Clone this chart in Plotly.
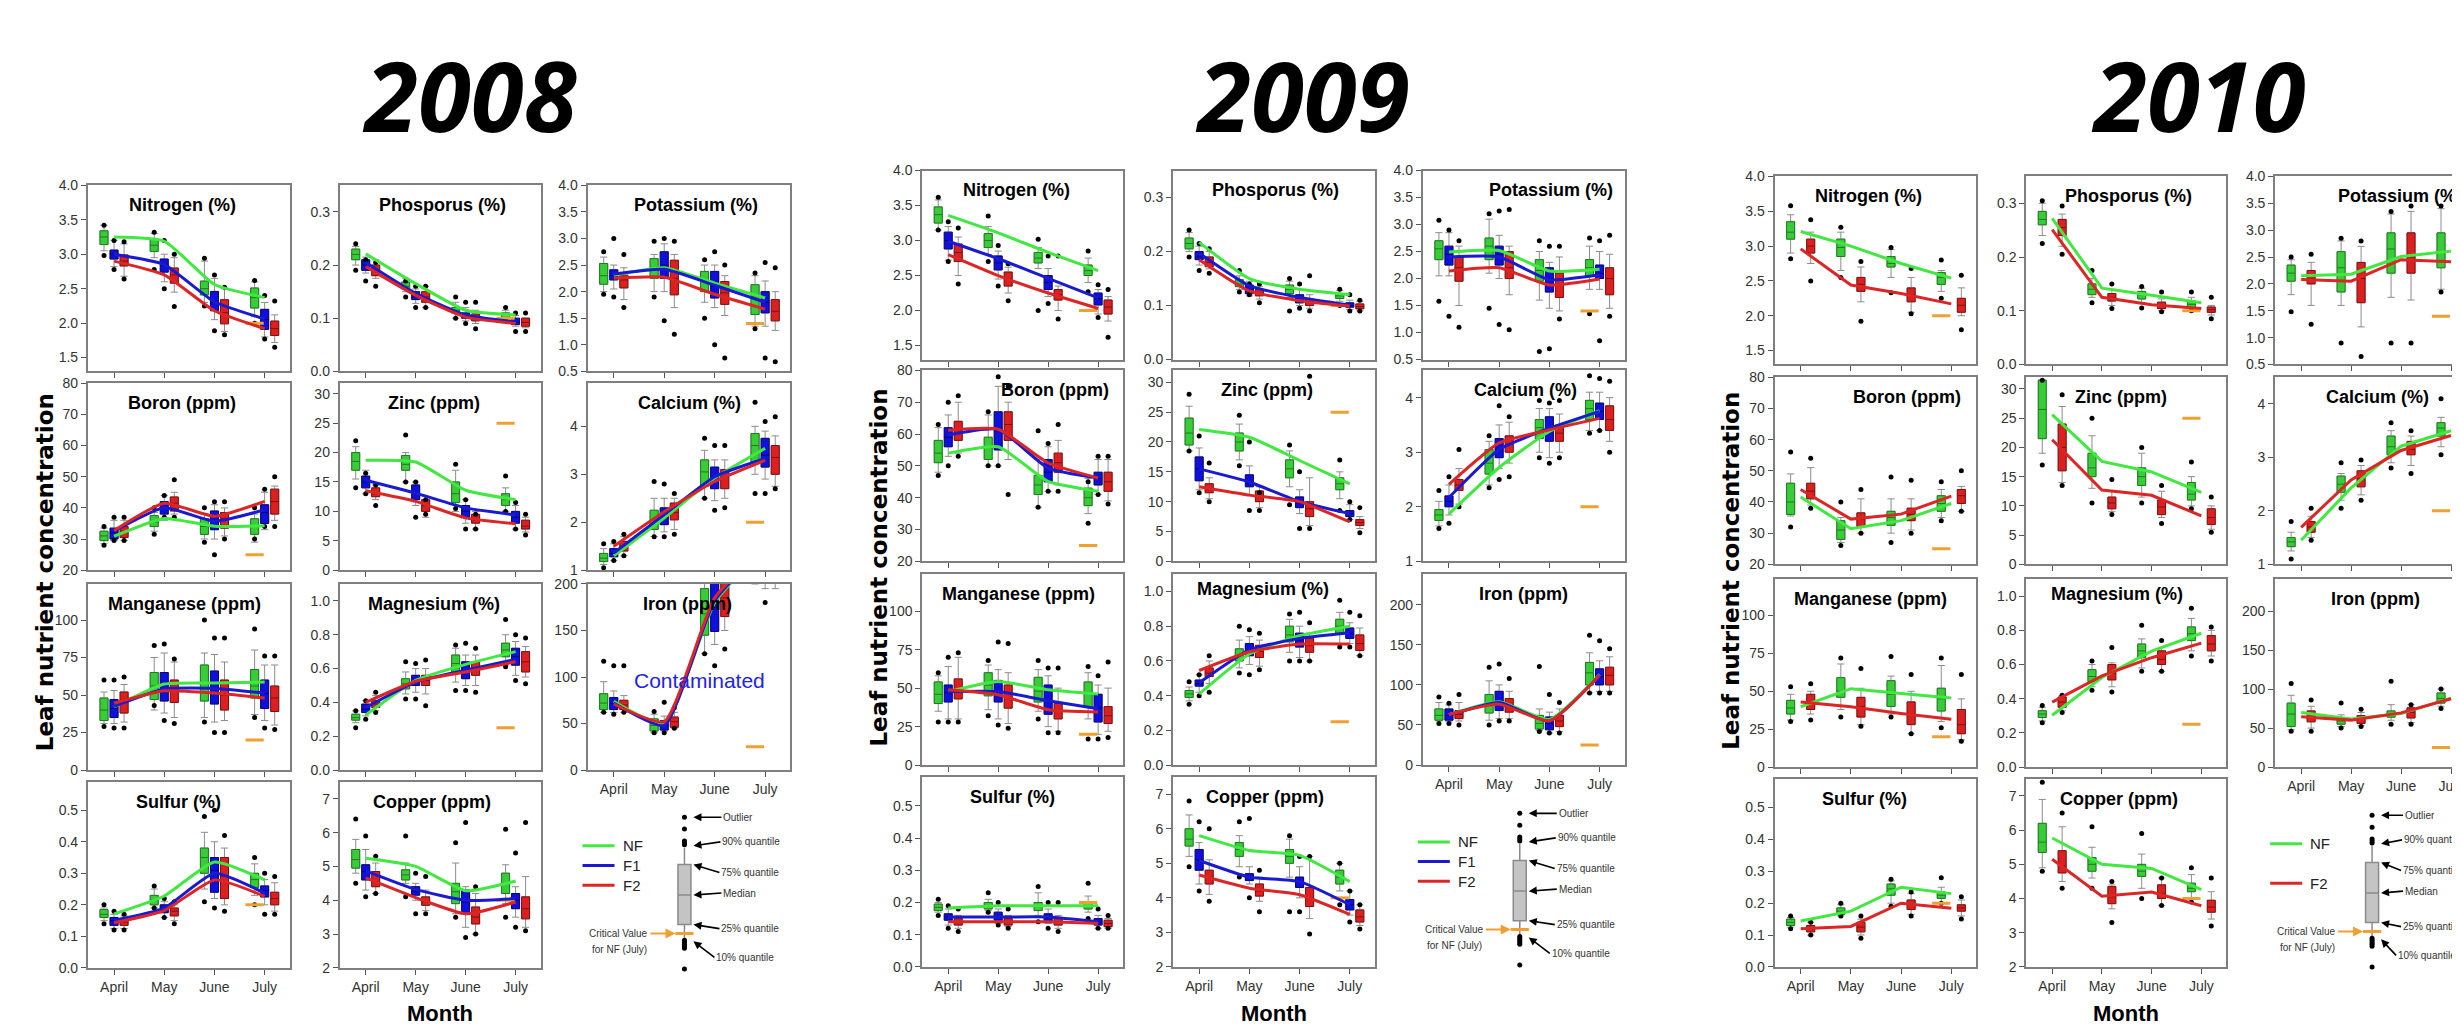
import plotly.graph_objects as go

W, H = 2460, 1025
MONTHS = ["April", "May", "June", "July"]
MONTH_POS = [1, 2, 3, 4]

# ---------------- DATA ----------------
# *_MEAN : line values (treatment means) per month
# *_BOX  : per month (10% quantile, 25% quantile, median, 75% quantile, 90% quantile)
# *_DOTS : per month (lowest outlier, highest outlier)

# ===== 2008 =====
N08_MEAN = {"NF": [3.25, 3.19, 2.56, 2.37], "F1": [3.00, 2.85, 2.31, 2.06], "F2": [2.90, 2.70, 2.18, 1.92]}
N08_BOX = {
    "NF": [(3.05, 3.14, 3.25, 3.34, 3.42), (2.95, 3.04, 3.13, 3.22, 3.30), (2.30, 2.41, 2.50, 2.61, 2.90), (2.10, 2.22, 2.37, 2.51, 2.60)],
    "F1": [(2.82, 2.93, 3.00, 3.06, 3.20), (2.60, 2.74, 2.84, 2.93, 3.00), (2.05, 2.18, 2.30, 2.46, 2.65), (1.80, 1.91, 2.05, 2.20, 2.30)],
    "F2": [(2.68, 2.83, 2.90, 2.99, 3.15), (2.45, 2.58, 2.70, 2.80, 2.95), (1.88, 1.99, 2.15, 2.34, 2.50), (1.72, 1.82, 1.92, 2.03, 2.12)],
}
N08_DOTS = {"NF": [(2.98, 3.42), (2.78, 3.32), (2.25, 2.94), (2.0, 2.62)],
            "F1": [(2.78, 3.2), (2.5, 3.2), (1.89, 2.7), (1.77, 2.4)],
            "F2": [(2.64, 3.18), (2.24, 3.0), (1.83, 2.52), (1.65, 2.32)]}
P08_MEAN = {"NF": [0.221, 0.165, 0.115, 0.106], "F1": [0.205, 0.147, 0.106, 0.093], "F2": [0.197, 0.143, 0.102, 0.090]}
P08_BOX = {
    "NF": [(0.200, 0.210, 0.220, 0.230, 0.235), (0.150, 0.155, 0.160, 0.168, 0.175), (0.100, 0.110, 0.115, 0.120, 0.130), (0.095, 0.100, 0.105, 0.110, 0.115)],
    "F1": [(0.185, 0.190, 0.200, 0.210, 0.215), (0.128, 0.135, 0.140, 0.150, 0.155), (0.095, 0.100, 0.105, 0.110, 0.120), (0.085, 0.088, 0.092, 0.100, 0.105)],
    "F2": [(0.175, 0.180, 0.190, 0.200, 0.210), (0.120, 0.130, 0.140, 0.150, 0.160), (0.090, 0.095, 0.100, 0.108, 0.115), (0.082, 0.085, 0.092, 0.100, 0.100)],
}
P08_DOTS = {"NF": [(0.19, 0.24), (0.14, 0.17), (0.10, 0.14), (0.095, 0.12)],
            "F1": [(0.17, 0.21), (0.12, 0.16), (0.09, 0.13), (0.075, 0.11)],
            "F2": [(0.16, 0.205), (0.12, 0.16), (0.08, 0.13), (0.075, 0.11)]}
K08_MEAN = {"NF": [2.31, 2.45, 2.16, 1.88], "F1": [2.33, 2.42, 2.12, 1.80], "F2": [2.25, 2.27, 1.95, 1.67]}
K08_BOX = {
    "NF": [(2.00, 2.14, 2.30, 2.53, 2.65), (2.00, 2.25, 2.45, 2.62, 2.70), (1.80, 2.00, 2.20, 2.38, 2.50), (1.35, 1.57, 1.90, 2.13, 2.30)],
    "F1": [(2.05, 2.22, 2.30, 2.41, 2.50), (2.00, 2.25, 2.50, 2.75, 2.90), (1.70, 1.88, 2.10, 2.38, 2.50), (1.35, 1.60, 1.80, 2.00, 2.20)],
    "F2": [(1.85, 2.07, 2.22, 2.31, 2.45), (1.70, 1.94, 2.25, 2.59, 2.70), (1.55, 1.76, 1.98, 2.19, 2.30), (1.27, 1.45, 1.63, 1.85, 2.00)],
}
K08_DOTS = {"NF": [(1.95, 2.75), (1.9, 2.95), (1.5, 2.6), (1.3, 2.35)],
            "F1": [(1.9, 3.0), (1.45, 3.0), (1.0, 2.75), (0.75, 2.55)],
            "F2": [(1.7, 2.7), (1.2, 2.95), (0.75, 2.5), (0.68, 2.45)]}
B08_MEAN = {"NF": [30.9, 36.6, 34.1, 34.3], "F1": [32.5, 40.0, 35.7, 39.4], "F2": [32.7, 41.5, 37.3, 42.1]}
B08_BOX = {
    "NF": [(28.5, 29.5, 31, 32.5, 33.5), (32.5, 34, 35.5, 37.5, 38.5), (30, 31.5, 34, 36.5, 38), (29, 31.5, 34, 36.5, 38)],
    "F1": [(29.5, 30, 32, 33.5, 36), (36, 38, 40, 42, 44), (30, 33, 36, 39, 41), (33, 35, 38.5, 41, 45)],
    "F2": [(29.5, 30.5, 32.5, 34, 36), (38, 39, 41.5, 43.5, 45), (31, 33.5, 36.5, 38.5, 40), (36, 38, 42, 46, 47)],
}
B08_DOTS = {"NF": [(28, 34), (31.5, 40), (29, 40), (30, 40)],
            "F1": [(29.5, 37), (37, 44), (25, 42), (34, 46)],
            "F2": [(29.5, 37), (37, 49), (30, 42), (34, 50)]}
ZN08_MEAN = {"NF": [18.7, 18.4, 13.6, 12.0], "F1": [15.3, 13.1, 10.6, 9.4], "F2": [13.5, 11.7, 8.9, 7.9]}
ZN08_BOX = {
    "NF": [(15.5, 17, 18.5, 20, 21), (15, 17, 18, 19.5, 20), (10, 11.5, 13, 15, 17), (10, 11, 12, 13, 14)],
    "F1": [(13, 14, 15, 16, 17), (11, 12, 13, 14.5, 15), (8, 9, 10, 11, 12), (7, 8, 9, 10, 11)],
    "F2": [(12, 12.5, 13, 14, 14.5), (9, 10, 11, 12, 12.5), (7, 8, 8.5, 9.5, 10), (6.5, 7, 7.5, 8.5, 9)],
}
ZN08_DOTS = {"NF": [(14, 22), (15, 23), (10.5, 18), (10, 16)],
             "F1": [(13, 16.5), (9, 15), (7, 12), (7, 11.5)],
             "F2": [(11, 14.5), (9.5, 12), (7, 9.5), (6, 9.5)]}
CA08_MEAN = {"NF": [1.30, 2.09, 2.92, 3.54], "F1": [1.36, 2.16, 2.95, 3.33], "F2": [1.50, 2.22, 2.85, 3.29]}
CA08_BOX = {
    "NF": [(1.12, 1.18, 1.25, 1.35, 1.45), (1.70, 1.85, 2.05, 2.25, 2.50), (2.50, 2.75, 3.05, 3.30, 3.50), (3.00, 3.25, 3.60, 3.85, 4.00)],
    "F1": [(1.20, 1.28, 1.35, 1.45, 1.55), (1.80, 1.95, 2.10, 2.30, 2.50), (2.45, 2.70, 2.90, 3.15, 3.30), (2.90, 3.15, 3.40, 3.75, 3.90)],
    "F2": [(1.30, 1.40, 1.50, 1.60, 1.70), (1.85, 2.05, 2.20, 2.40, 2.50), (2.50, 2.70, 2.95, 3.10, 3.30), (2.75, 3.00, 3.35, 3.60, 3.80)],
}
CA08_DOTS = {"NF": [(1.05, 1.55), (1.7, 2.85), (2.5, 3.75), (2.6, 4.5)],
             "F1": [(1.2, 1.6), (1.7, 2.8), (2.25, 3.6), (2.6, 4.1)],
             "F2": [(1.3, 1.75), (1.75, 2.6), (2.3, 3.6), (2.7, 4.2)]}
MN08_MEAN = {"NF": [42, 57.3, 58, 58.7], "F1": [42.5, 54, 54.4, 51.3], "F2": [44.5, 52.8, 51.3, 48]}
MN08_BOX = {
    "NF": [(31, 33, 40, 48, 52), (40, 47, 56, 65, 75), (35, 46, 58, 70, 78), (37, 48, 56, 67, 80)],
    "F1": [(31, 35, 41, 47, 53), (38, 46, 57, 65, 78), (32, 44, 54, 66, 77), (33, 41, 51, 60, 70)],
    "F2": [(32, 38, 45, 52, 57), (35, 45, 53, 60, 72), (33, 40, 50, 60, 72), (30, 39, 48, 56, 70)],
}
MN08_DOTS = {"NF": [(29, 60), (43, 83), (32, 100), (35, 94)],
             "F1": [(28, 60), (33, 84), (25, 88), (28, 76)],
             "F2": [(28, 62), (31, 74), (25, 88), (27, 76)]}
MG08_MEAN = {"NF": [0.325, 0.53, 0.625, 0.70], "F1": [0.37, 0.52, 0.59, 0.655], "F2": [0.40, 0.525, 0.58, 0.64]}
MG08_BOX = {
    "NF": [(0.28, 0.295, 0.31, 0.33, 0.35), (0.45, 0.48, 0.51, 0.54, 0.58), (0.52, 0.58, 0.63, 0.68, 0.72), (0.62, 0.67, 0.71, 0.75, 0.80)],
    "F1": [(0.32, 0.34, 0.36, 0.39, 0.41), (0.46, 0.50, 0.53, 0.56, 0.60), (0.50, 0.54, 0.58, 0.64, 0.68), (0.56, 0.62, 0.67, 0.72, 0.76)],
    "F2": [(0.35, 0.37, 0.39, 0.41, 0.44), (0.45, 0.50, 0.53, 0.56, 0.60), (0.50, 0.56, 0.60, 0.64, 0.68), (0.55, 0.58, 0.64, 0.70, 0.73)],
}
MG08_DOTS = {"NF": [(0.25, 0.35), (0.42, 0.64), (0.47, 0.74), (0.61, 0.89)],
             "F1": [(0.30, 0.41), (0.42, 0.63), (0.47, 0.75), (0.53, 0.80)],
             "F2": [(0.34, 0.46), (0.38, 0.65), (0.46, 0.72), (0.51, 0.78)]}
FE08_MEAN = {"NF": [74, 49.5, 180, 240], "F1": [72, 48, 182, 240], "F2": [71, 52, 185, 240]}
FE08_BOX = {
    "NF": [(62, 65, 72, 82, 95), (40, 42, 48, 55, 60), (125, 145, 168, 195, 215), (200, 225, 250, 275, 300)],
    "F1": [(62, 65, 72, 78, 85), (42, 43, 48, 53, 58), (135, 149, 175, 210, 230), (195, 220, 245, 270, 290)],
    "F2": [(62, 65, 70, 75, 80), (45, 46, 52, 57, 62), (150, 165, 185, 210, 230), (195, 215, 240, 265, 290)],
}
FE08_DOTS = {"NF": [(62, 117), (40, 63), (125, 250), (205, 320)],
             "F1": [(60, 112), (40, 73), (112, 250), (180, 320)],
             "F2": [(62, 112), (45, 67), (130, 250), (210, 320)]}
S08_MEAN = {"NF": [0.171, 0.228, 0.336, 0.279], "F1": [0.151, 0.190, 0.300, 0.237], "F2": [0.143, 0.182, 0.279, 0.227]}
S08_BOX = {
    "NF": [(0.15, 0.16, 0.17, 0.185, 0.19), (0.19, 0.20, 0.215, 0.23, 0.25), (0.25, 0.30, 0.35, 0.38, 0.43), (0.23, 0.255, 0.28, 0.30, 0.33)],
    "F1": [(0.125, 0.135, 0.15, 0.16, 0.17), (0.16, 0.175, 0.19, 0.20, 0.21), (0.22, 0.24, 0.31, 0.35, 0.40), (0.20, 0.225, 0.245, 0.26, 0.28)],
    "F2": [(0.125, 0.135, 0.145, 0.155, 0.165), (0.15, 0.165, 0.18, 0.19, 0.20), (0.20, 0.22, 0.29, 0.35, 0.38), (0.18, 0.20, 0.22, 0.24, 0.27)],
}
S08_DOTS = {"NF": [(0.14, 0.20), (0.19, 0.26), (0.21, 0.48), (0.20, 0.35)],
            "F1": [(0.12, 0.18), (0.16, 0.22), (0.19, 0.50), (0.17, 0.30)],
            "F2": [(0.12, 0.17), (0.14, 0.21), (0.18, 0.42), (0.17, 0.29)]}
CU08_MEAN = {"NF": [5.24, 5.00, 4.28, 4.57], "F1": [4.87, 4.32, 4.00, 4.05], "F2": [4.66, 4.08, 3.60, 3.95]}
CU08_BOX = {
    "NF": [(4.8, 4.95, 5.2, 5.5, 5.8), (4.5, 4.6, 4.75, 4.9, 5.1), (3.6, 3.9, 4.25, 4.5, 5.1), (3.9, 4.2, 4.5, 4.8, 5.05)],
    "F1": [(4.3, 4.6, 4.85, 5.05, 5.5), (4.0, 4.15, 4.25, 4.4, 4.5), (3.2, 3.6, 3.95, 4.3, 4.4), (3.5, 3.75, 4.0, 4.2, 4.4)],
    "F2": [(4.2, 4.4, 4.55, 4.85, 5.1), (3.7, 3.85, 3.95, 4.1, 4.3), (3.0, 3.3, 3.5, 3.8, 4.2), (3.2, 3.45, 3.75, 4.1, 4.7)],
}
CU08_DOTS = {"NF": [(4.5, 6.4), (4.1, 5.9), (3.5, 5.7), (3.5, 6.1)],
             "F1": [(4.1, 5.9), (3.6, 4.8), (2.9, 6.3), (3.2, 5.4)],
             "F2": [(4.2, 5.3), (3.6, 4.7), (3.0, 4.4), (3.1, 6.3)]}

# ===== 2009 =====
N09_MEAN = {"NF": [3.36, 3.11, 2.83, 2.57], "F1": [2.99, 2.74, 2.46, 2.18], "F2": [2.80, 2.50, 2.25, 2.03]}
N09_BOX = {
    "NF": [(3.15, 3.25, 3.37, 3.48, 3.58), (2.80, 2.90, 3.00, 3.10, 3.20), (2.60, 2.68, 2.75, 2.83, 2.90), (2.40, 2.50, 2.57, 2.65, 2.75)],
    "F1": [(2.72, 2.88, 3.00, 3.12, 3.20), (2.45, 2.58, 2.68, 2.78, 2.85), (2.20, 2.30, 2.40, 2.50, 2.60), (1.95, 2.08, 2.17, 2.25, 2.30)],
    "F2": [(2.50, 2.70, 2.83, 2.95, 3.05), (2.25, 2.35, 2.45, 2.55, 2.62), (2.00, 2.15, 2.22, 2.30, 2.35), (1.85, 1.95, 2.05, 2.15, 2.20)],
}
N09_DOTS = {"NF": [(3.15, 3.62), (2.7, 3.35), (2.0, 3.02), (2.27, 2.85)],
            "F1": [(2.7, 3.27), (2.35, 2.93), (2.1, 2.78), (1.9, 2.37)],
            "F2": [(2.38, 3.18), (2.14, 2.67), (1.88, 2.78), (1.62, 2.3)]}
P09_MEAN = {"NF": [0.217, 0.150, 0.130, 0.120], "F1": [0.197, 0.137, 0.115, 0.101], "F2": [0.185, 0.127, 0.109, 0.099]}
P09_BOX = {
    "NF": [(0.200, 0.205, 0.215, 0.225, 0.235), (0.130, 0.135, 0.140, 0.148, 0.155), (0.115, 0.122, 0.130, 0.138, 0.145), (0.108, 0.113, 0.118, 0.122, 0.128)],
    "F1": [(0.175, 0.185, 0.190, 0.200, 0.210), (0.118, 0.122, 0.130, 0.138, 0.145), (0.100, 0.105, 0.113, 0.120, 0.130), (0.093, 0.097, 0.100, 0.105, 0.110)],
    "F2": [(0.168, 0.172, 0.180, 0.190, 0.200), (0.112, 0.118, 0.123, 0.130, 0.135), (0.095, 0.100, 0.107, 0.112, 0.120), (0.090, 0.094, 0.098, 0.103, 0.108)],
}
P09_DOTS = {"NF": [(0.19, 0.24), (0.125, 0.165), (0.09, 0.15), (0.10, 0.13)],
            "F1": [(0.165, 0.215), (0.12, 0.14), (0.095, 0.14), (0.09, 0.12)],
            "F2": [(0.16, 0.205), (0.105, 0.14), (0.09, 0.155), (0.09, 0.11)]}
K09_MEAN = {"NF": [2.49, 2.52, 2.14, 2.17], "F1": [2.40, 2.40, 1.98, 2.07], "F2": [2.14, 2.20, 1.88, 1.99]}
K09_BOX = {
    "NF": [(2.05, 2.35, 2.55, 2.70, 2.85), (2.10, 2.35, 2.60, 2.75, 3.10), (1.60, 1.95, 2.15, 2.35, 2.50), (1.80, 2.05, 2.20, 2.35, 2.60)],
    "F1": [(2.05, 2.25, 2.45, 2.60, 2.85), (2.00, 2.25, 2.45, 2.60, 2.80), (1.45, 1.75, 2.00, 2.20, 2.30), (1.80, 2.00, 2.10, 2.25, 2.50)],
    "F2": [(1.50, 1.95, 2.20, 2.40, 2.60), (1.70, 2.00, 2.20, 2.50, 2.60), (1.40, 1.65, 1.90, 2.10, 2.40), (1.45, 1.70, 2.00, 2.20, 2.45)],
}
K09_DOTS = {"NF": [(1.58, 3.08), (1.45, 3.2), (0.65, 2.7), (1.35, 2.75)],
            "F1": [(1.3, 2.9), (1.15, 3.25), (0.7, 2.6), (0.85, 2.7)],
            "F2": [(1.1, 2.7), (1.05, 3.28), (1.25, 2.6), (1.3, 2.8)]}
B09_MEAN = {"NF": [54, 56, 45.1, 42], "F1": [59.7, 61.5, 49.3, 46.2], "F2": [61.2, 61.5, 50.9, 46.2]}
B09_BOX = {
    "NF": [(48, 51, 54, 58, 62), (50, 52, 56, 59, 66), (37, 41, 44, 47, 52), (35, 37.5, 40, 43, 46)],
    "F1": [(53, 56, 59, 62, 66), (50, 55, 61, 67, 75), (42, 45, 48, 52, 56), (41, 44, 46, 48, 52)],
    "F2": [(54, 58, 61, 64, 70), (52, 58, 63, 67, 70), (44, 48, 51, 54, 58), (39, 42, 45, 48, 52)],
}
B09_DOTS = {"NF": [(47, 63), (50, 67), (37, 61), (32, 45)],
            "F1": [(50, 70), (50, 78), (42, 57), (41, 53)],
            "F2": [(53, 72), (41, 75), (42, 63), (38, 53)]}
ZN09_MEAN = {"NF": [22.1, 20.8, 16.9, 13.0], "F1": [15.5, 13.3, 10.0, 8.0], "F2": [12.5, 11.1, 10.0, 6.6]}
ZN09_BOX = {
    "NF": [(18.5, 19.5, 21.5, 24, 26), (17, 18.5, 20, 21.5, 23), (12.5, 14, 15.5, 17, 18.5), (10.5, 12, 13, 14, 15)],
    "F1": [(12, 13.5, 15.5, 17.5, 19), (11, 12.5, 13, 14.5, 16), (8, 9, 9.8, 10.8, 12), (7, 7.5, 8, 8.5, 9.5)],
    "F2": [(10.5, 11.5, 12, 13, 14), (9, 10, 10.8, 11.8, 12.5), (6, 7.5, 8.8, 10, 14), (5.5, 6, 6.5, 7, 7.5)],
}
ZN09_DOTS = {"NF": [(18.5, 28), (16, 24.5), (9.5, 19.5), (8.5, 17)],
             "F1": [(11.5, 21), (8.5, 20), (5.5, 15), (7, 10)],
             "F2": [(10, 16.5), (8.5, 11.5), (5.5, 31), (4.8, 9)]}
CA09_MEAN = {"NF": [1.87, 2.72, 3.38, 3.76], "F1": [2.17, 3.05, 3.44, 3.75], "F2": [2.41, 3.17, 3.41, 3.62]}
CA09_BOX = {
    "NF": [(1.65, 1.75, 1.85, 1.95, 2.10), (2.40, 2.60, 2.80, 3.05, 3.20), (3.00, 3.25, 3.45, 3.60, 3.80), (3.40, 3.60, 3.80, 3.95, 4.10)],
    "F1": [(1.85, 2.00, 2.10, 2.20, 2.40), (2.70, 2.90, 3.05, 3.25, 3.50), (2.90, 3.20, 3.40, 3.65, 3.80), (3.40, 3.60, 3.75, 3.90, 4.10)],
    "F2": [(2.05, 2.30, 2.40, 2.50, 2.70), (2.80, 3.00, 3.15, 3.30, 3.55), (3.00, 3.20, 3.35, 3.50, 3.70), (3.20, 3.40, 3.60, 3.85, 4.00)],
}
CA09_DOTS = {"NF": [(1.6, 2.3), (2.35, 3.3), (2.9, 3.95), (3.35, 4.4)],
             "F1": [(1.7, 2.55), (2.5, 3.85), (2.8, 3.9), (3.4, 4.35)],
             "F2": [(2.0, 3.05), (2.55, 3.65), (2.9, 3.95), (3.0, 4.3)]}
MN09_MEAN = {"NF": [47.8, 54.3, 48.9, 46.1], "F1": [47.8, 47.8, 41.8, 36.6], "F2": [48.9, 45.7, 36.0, 34.5]}
MN09_BOX = {
    "NF": [(35, 40, 46, 54, 58), (36, 45, 52, 60, 65), (35, 41, 48, 57, 62), (30, 38, 47, 54, 60)],
    "F1": [(30, 41, 47, 52, 64), (30, 41, 48, 55, 62), (25, 33, 42, 52, 58), (20, 28, 37, 46, 52)],
    "F2": [(30, 43, 49, 56, 70), (27, 37, 44, 52, 60), (22, 30, 35, 40, 50), (22, 27, 32, 38, 50)],
}
MN09_DOTS = {"NF": [(28, 60), (32, 68), (30, 68), (17, 64)],
             "F1": [(28, 70), (26, 80), (21, 63), (17, 58)],
             "F2": [(28, 73), (24, 79), (21, 63), (18, 67)]}
MG09_MEAN = {"NF": [0.41, 0.64, 0.745, 0.80], "F1": [0.474, 0.664, 0.73, 0.763], "F2": [0.545, 0.653, 0.697, 0.697]}
MG09_BOX = {
    "NF": [(0.37, 0.39, 0.41, 0.43, 0.45), (0.56, 0.60, 0.63, 0.67, 0.72), (0.65, 0.71, 0.75, 0.80, 0.84), (0.70, 0.76, 0.80, 0.84, 0.88)],
    "F1": [(0.42, 0.455, 0.47, 0.49, 0.52), (0.58, 0.63, 0.66, 0.70, 0.74), (0.62, 0.68, 0.72, 0.76, 0.80), (0.70, 0.73, 0.76, 0.79, 0.82)],
    "F2": [(0.47, 0.51, 0.53, 0.56, 0.60), (0.57, 0.62, 0.655, 0.69, 0.72), (0.60, 0.65, 0.69, 0.73, 0.76), (0.63, 0.66, 0.70, 0.75, 0.79)],
}
MG09_DOTS = {"NF": [(0.35, 0.48), (0.53, 0.80), (0.60, 0.87), (0.68, 0.95)],
             "F1": [(0.40, 0.52), (0.52, 0.78), (0.60, 0.88), (0.68, 0.88)],
             "F2": [(0.42, 0.63), (0.55, 0.76), (0.60, 0.82), (0.63, 0.86)]}
FE09_MEAN = {"NF": [62.9, 79, 57, 113], "F1": [62, 78, 55, 112], "F2": [63, 76, 55, 112]}
FE09_BOX = {
    "NF": [(55, 56, 62, 70, 78), (56, 65, 75, 88, 105), (43, 45, 52, 62, 70), (90, 100, 115, 128, 140)],
    "F1": [(54, 56, 62, 70, 75), (58, 68, 78, 92, 100), (40, 44, 52, 60, 66), (92, 100, 110, 120, 130)],
    "F2": [(55, 58, 63, 68, 78), (58, 66, 75, 83, 92), (42, 48, 55, 62, 70), (92, 100, 112, 122, 135)],
}
FE09_DOTS = {"NF": [(52, 85), (50, 122), (42, 123), (90, 162)],
             "F1": [(52, 77), (55, 126), (40, 88), (90, 155)],
             "F2": [(50, 88), (55, 108), (40, 78), (90, 145)]}
S09_MEAN = {"NF": [0.183, 0.19, 0.19, 0.19], "F1": [0.155, 0.155, 0.155, 0.14], "F2": [0.14, 0.14, 0.14, 0.135]}
S09_BOX = {
    "NF": [(0.17, 0.175, 0.185, 0.195, 0.20), (0.175, 0.18, 0.19, 0.20, 0.21), (0.16, 0.175, 0.19, 0.20, 0.23), (0.17, 0.18, 0.19, 0.20, 0.22)],
    "F1": [(0.13, 0.145, 0.155, 0.165, 0.18), (0.135, 0.145, 0.155, 0.17, 0.18), (0.135, 0.14, 0.15, 0.165, 0.18), (0.12, 0.13, 0.14, 0.15, 0.16)],
    "F2": [(0.12, 0.13, 0.14, 0.15, 0.16), (0.125, 0.13, 0.14, 0.15, 0.16), (0.12, 0.13, 0.14, 0.15, 0.16), (0.12, 0.125, 0.135, 0.145, 0.15)],
}
S09_DOTS = {"NF": [(0.16, 0.21), (0.17, 0.23), (0.14, 0.25), (0.15, 0.26)],
            "F1": [(0.12, 0.19), (0.13, 0.20), (0.12, 0.20), (0.12, 0.18)],
            "F2": [(0.11, 0.18), (0.12, 0.18), (0.11, 0.20), (0.12, 0.16)]}
CU09_MEAN = {"NF": [5.80, 5.37, 5.23, 4.47], "F1": [5.08, 4.60, 4.47, 3.80], "F2": [4.66, 4.28, 4.09, 3.52]}
CU09_BOX = {
    "NF": [(5.2, 5.5, 5.7, 6.0, 6.4), (4.9, 5.2, 5.4, 5.6, 5.8), (4.6, 5.0, 5.2, 5.4, 5.7), (4.2, 4.4, 4.6, 4.8, 5.0)],
    "F1": [(4.4, 4.8, 5.1, 5.4, 5.6), (4.4, 4.5, 4.6, 4.7, 4.9), (4.0, 4.3, 4.45, 4.6, 4.9), (3.5, 3.65, 3.8, 3.95, 4.2)],
    "F2": [(4.1, 4.4, 4.6, 4.8, 5.1), (3.9, 4.05, 4.2, 4.4, 4.6), (3.4, 3.75, 4.0, 4.3, 5.2), (3.2, 3.3, 3.45, 3.65, 3.8)],
}
CU09_DOTS = {"NF": [(4.9, 6.8), (4.6, 6.2), (3.6, 5.8), (3.8, 5.0)],
             "F1": [(4.2, 6.2), (4.0, 6.3), (3.6, 5.2), (3.3, 4.2)],
             "F2": [(3.9, 6.0), (3.6, 4.8), (2.95, 5.2), (3.1, 3.8)]}

# ===== 2010 (NF and F2 only) =====
N10_MEAN = {"NF": [3.21, 3.00, 2.75, 2.54], "F2": [2.96, 2.44, 2.32, 2.17]}
N10_BOX = {
    "NF": [(2.90, 3.10, 3.20, 3.35, 3.45), (2.65, 2.85, 2.98, 3.10, 3.20), (2.55, 2.70, 2.75, 2.85, 2.95), (2.35, 2.45, 2.55, 2.62, 2.65)],
    "F2": [(2.75, 2.90, 3.00, 3.10, 3.20), (2.20, 2.35, 2.45, 2.55, 2.70), (2.05, 2.20, 2.30, 2.40, 2.55), (2.00, 2.05, 2.15, 2.25, 2.40)],
}
N10_DOTS = {"NF": [(2.82, 3.58), (2.55, 3.27), (2.33, 2.98), (2.25, 2.8)],
            "F2": [(2.5, 3.38), (1.92, 2.78), (2.03, 2.68), (1.8, 2.58)]}
P10_MEAN = {"NF": [0.272, 0.142, 0.129, 0.115], "F2": [0.251, 0.125, 0.111, 0.104]}
P10_BOX = {
    "NF": [(0.240, 0.260, 0.270, 0.285, 0.300), (0.125, 0.130, 0.140, 0.150, 0.160), (0.115, 0.122, 0.130, 0.136, 0.142), (0.100, 0.106, 0.112, 0.118, 0.125)],
    "F2": [(0.220, 0.240, 0.255, 0.270, 0.280), (0.110, 0.118, 0.125, 0.132, 0.140), (0.100, 0.104, 0.110, 0.116, 0.122), (0.092, 0.097, 0.102, 0.107, 0.110)],
}
P10_DOTS = {"NF": [(0.225, 0.305), (0.115, 0.175), (0.105, 0.145), (0.10, 0.135)],
            "F2": [(0.205, 0.295), (0.104, 0.15), (0.098, 0.135), (0.085, 0.125)]}
K10_MEAN = {"NF": [2.15, 2.18, 2.51, 2.61], "F2": [2.08, 2.05, 2.45, 2.41]}
K10_BOX = {
    "NF": [(1.80, 2.05, 2.20, 2.35, 2.45), (1.60, 1.85, 2.30, 2.60, 2.80), (1.75, 2.20, 2.65, 2.95, 3.30), (1.90, 2.30, 2.60, 2.95, 3.40)],
    "F2": [(1.60, 2.00, 2.10, 2.25, 2.40), (1.20, 1.65, 2.10, 2.40, 2.70), (1.70, 2.20, 2.50, 2.95, 3.35), (1.80, 2.05, 2.45, 2.85, 3.05)],
}
K10_DOTS = {"NF": [(1.48, 2.5), (0.9, 2.85), (0.9, 3.35), (1.85, 3.45)],
            "F2": [(1.25, 2.55), (0.65, 2.8), (0.9, 3.45), (1.7, 3.3)]}
B10_MEAN = {"NF": [41.6, 31.4, 34.0, 39.5], "F2": [44.0, 34.5, 36.1, 41.9]}
B10_BOX = {
    "NF": [(35.5, 36, 40, 46, 49), (27, 28, 31, 34, 35), (30, 32.5, 35, 37, 41), (35, 37, 39.5, 42, 44)],
    "F2": [(39, 41, 43.5, 46, 51), (30, 32, 34.5, 36.5, 41), (31, 34, 36, 38, 41), (37, 39.5, 42, 44, 45)],
}
B10_DOTS = {"NF": [(32, 56), (26, 40), (27, 48), (34, 46.5)],
            "F2": [(38, 54), (30, 44), (30, 47), (37, 50)]}
ZN10_MEAN = {"NF": [25.6, 17.6, 15.8, 12.3], "F2": [21.3, 12.7, 11.8, 8.3]}
ZN10_BOX = {
    "NF": [(19, 21.5, 26.5, 31.5, 31.5), (13, 15, 16.5, 19, 22), (11.5, 13.5, 15, 16.5, 19), (10, 11, 12, 14, 15)],
    "F2": [(14, 16, 20, 24, 27), (9, 9.5, 10.5, 11.5, 12.5), (8, 8.5, 9.8, 11, 12.5), (6, 6.8, 8, 9.5, 10)],
}
ZN10_DOTS = {"NF": [(17, 31.5), (10.5, 25), (10.5, 20), (9.5, 17.5)],
             "F2": [(13.5, 29), (8.5, 14.5), (7, 13.5), (5.5, 11.5)]}
CA10_MEAN = {"NF": [1.45, 2.43, 3.21, 3.50], "F2": [1.69, 2.58, 3.13, 3.41]}
CA10_BOX = {
    "NF": [(1.25, 1.33, 1.42, 1.50, 1.60), (2.20, 2.35, 2.50, 2.65, 2.70), (2.90, 3.05, 3.20, 3.40, 3.50), (3.20, 3.40, 3.55, 3.65, 3.75)],
    "F2": [(1.50, 1.60, 1.70, 1.80, 1.90), (2.30, 2.45, 2.60, 2.75, 2.85), (2.85, 3.05, 3.15, 3.30, 3.40), (3.05, 3.20, 3.40, 3.55, 3.70)],
}
CA10_DOTS = {"NF": [(1.1, 1.8), (2.05, 2.9), (2.8, 3.65), (3.05, 4.1)],
             "F2": [(1.45, 2.05), (2.2, 2.95), (2.7, 3.5), (3.0, 3.9)]}
MN10_MEAN = {"NF": [39.8, 51.7, 48.5, 45.6], "F2": [43.0, 39.8, 35.4, 31.5]}
MN10_BOX = {
    "NF": [(31, 35, 39, 44, 48), (38, 46, 50, 59, 68), (35, 40, 48, 57, 60), (30, 37, 45, 52, 67)],
    "F2": [(35, 38, 43, 48, 50), (28, 33, 40, 46, 52), (22, 28, 35, 43, 50), (18, 22, 28, 38, 45)],
}
MN10_DOTS = {"NF": [(30, 53), (33, 72), (33, 73), (26, 72)],
             "F2": [(31, 55), (27, 65), (22, 61), (17, 61)]}
MG10_MEAN = {"NF": [0.303, 0.524, 0.678, 0.783], "F2": [0.38, 0.534, 0.64, 0.725]}
MG10_BOX = {
    "NF": [(0.27, 0.29, 0.31, 0.33, 0.35), (0.47, 0.50, 0.53, 0.57, 0.60), (0.58, 0.64, 0.68, 0.72, 0.75), (0.68, 0.74, 0.78, 0.82, 0.87)],
    "F2": [(0.33, 0.35, 0.38, 0.41, 0.42), (0.47, 0.51, 0.55, 0.60, 0.61), (0.56, 0.60, 0.63, 0.68, 0.70), (0.65, 0.68, 0.72, 0.77, 0.80)],
}
MG10_DOTS = {"NF": [(0.26, 0.36), (0.45, 0.62), (0.56, 0.83), (0.65, 0.93)],
             "F2": [(0.32, 0.42), (0.44, 0.70), (0.56, 0.74), (0.62, 0.82)]}
FE10_MEAN = {"NF": [70, 61.5, 68.6, 88.4], "F2": [64.4, 60.2, 69.5, 87.6]}
FE10_BOX = {
    "NF": [(48, 52, 68, 82, 92), (52, 55, 59, 63, 67), (60, 64, 68, 72, 80), (78, 82, 88, 95, 100)],
    "F2": [(50, 58, 65, 72, 78), (53, 56, 62, 66, 70), (57, 63, 70, 76, 80), (74, 80, 85, 92, 96)],
}
FE10_DOTS = {"NF": [(46, 107), (50, 82), (55, 110), (75, 100)],
             "F2": [(46, 86), (52, 74), (55, 80), (72, 133)]}
S10_MEAN = {"NF": [0.144, 0.175, 0.25, 0.23], "F2": [0.12, 0.127, 0.20, 0.184]}
S10_BOX = {
    "NF": [(0.125, 0.13, 0.14, 0.15, 0.155), (0.16, 0.165, 0.175, 0.185, 0.195), (0.20, 0.225, 0.245, 0.26, 0.27), (0.20, 0.215, 0.225, 0.235, 0.25)],
    "F2": [(0.10, 0.11, 0.12, 0.13, 0.14), (0.10, 0.11, 0.125, 0.14, 0.15), (0.165, 0.18, 0.195, 0.21, 0.23), (0.16, 0.175, 0.185, 0.195, 0.21)],
}
S10_DOTS = {"NF": [(0.12, 0.16), (0.16, 0.20), (0.19, 0.275), (0.20, 0.28)],
            "F2": [(0.10, 0.14), (0.09, 0.16), (0.16, 0.235), (0.15, 0.22)]}
CU10_MEAN = {"NF": [5.77, 5.00, 4.88, 4.26], "F2": [5.15, 4.07, 4.19, 3.79]}
CU10_BOX = {
    "NF": [(4.9, 5.35, 5.65, 6.2, 6.9), (4.6, 4.8, 5.0, 5.2, 5.5), (4.3, 4.65, 4.8, 5.0, 5.3), (4.0, 4.2, 4.3, 4.45, 4.7)],
    "F2": [(4.5, 4.75, 4.95, 5.4, 6.1), (3.7, 3.85, 4.05, 4.35, 4.4), (3.8, 4.0, 4.15, 4.4, 4.6), (3.4, 3.6, 3.75, 3.95, 4.2)],
}
CU10_DOTS = {"NF": [(4.8, 7.4), (4.3, 6.1), (4.0, 5.9), (3.9, 4.9)],
             "F2": [(4.3, 6.5), (3.3, 4.5), (3.8, 4.6), (3.2, 4.6)]}

# critical values for NF in July
CRITICAL = {"Nitrogen": 2.0, "Phosphorus": 0.10, "Potassium": 1.4, "Boron": 25, "Zinc": 25,
            "Calcium": 2.0, "Manganese": 20, "Magnesium": 0.25, "Iron": 25, "Sulfur": 0.2, "Copper": 4.0}

# schematic box for the key: 10%, 25%, median, 75%, 90% ; outliers ; critical value
KEY_BOX = [4.3, 5.7, 8.7, 11.8, 13.5]
KEY_OUTLIERS = [16.6, 15.4, 14.2, 14.0, 13.8, 4.1, 3.9, 3.7, 3.5, 3.3, 1.2]
KEY_CRITICAL = 4.8

DATA = {
    2008: {"Nitrogen": (N08_MEAN, N08_BOX, N08_DOTS), "Phosphorus": (P08_MEAN, P08_BOX, P08_DOTS),
           "Potassium": (K08_MEAN, K08_BOX, K08_DOTS), "Boron": (B08_MEAN, B08_BOX, B08_DOTS),
           "Zinc": (ZN08_MEAN, ZN08_BOX, ZN08_DOTS), "Calcium": (CA08_MEAN, CA08_BOX, CA08_DOTS),
           "Manganese": (MN08_MEAN, MN08_BOX, MN08_DOTS), "Magnesium": (MG08_MEAN, MG08_BOX, MG08_DOTS),
           "Iron": (FE08_MEAN, FE08_BOX, FE08_DOTS), "Sulfur": (S08_MEAN, S08_BOX, S08_DOTS),
           "Copper": (CU08_MEAN, CU08_BOX, CU08_DOTS)},
    2009: {"Nitrogen": (N09_MEAN, N09_BOX, N09_DOTS), "Phosphorus": (P09_MEAN, P09_BOX, P09_DOTS),
           "Potassium": (K09_MEAN, K09_BOX, K09_DOTS), "Boron": (B09_MEAN, B09_BOX, B09_DOTS),
           "Zinc": (ZN09_MEAN, ZN09_BOX, ZN09_DOTS), "Calcium": (CA09_MEAN, CA09_BOX, CA09_DOTS),
           "Manganese": (MN09_MEAN, MN09_BOX, MN09_DOTS), "Magnesium": (MG09_MEAN, MG09_BOX, MG09_DOTS),
           "Iron": (FE09_MEAN, FE09_BOX, FE09_DOTS), "Sulfur": (S09_MEAN, S09_BOX, S09_DOTS),
           "Copper": (CU09_MEAN, CU09_BOX, CU09_DOTS)},
    2010: {"Nitrogen": (N10_MEAN, N10_BOX, N10_DOTS), "Phosphorus": (P10_MEAN, P10_BOX, P10_DOTS),
           "Potassium": (K10_MEAN, K10_BOX, K10_DOTS), "Boron": (B10_MEAN, B10_BOX, B10_DOTS),
           "Zinc": (ZN10_MEAN, ZN10_BOX, ZN10_DOTS), "Calcium": (CA10_MEAN, CA10_BOX, CA10_DOTS),
           "Manganese": (MN10_MEAN, MN10_BOX, MN10_DOTS), "Magnesium": (MG10_MEAN, MG10_BOX, MG10_DOTS),
           "Iron": (FE10_MEAN, FE10_BOX, FE10_DOTS), "Sulfur": (S10_MEAN, S10_BOX, S10_DOTS),
           "Copper": (CU10_MEAN, CU10_BOX, CU10_DOTS)},
}

# ---------------- STYLE / LAYOUT ----------------
GRID = [["Nitrogen", "Phosphorus", "Potassium"],
        ["Boron", "Zinc", "Calcium"],
        ["Manganese", "Magnesium", "Iron"],
        ["Sulfur", "Copper", None]]
TITLES = {"Nitrogen": "Nitrogen (%)", "Phosphorus": "Phosporus (%)", "Potassium": "Potassium (%)",
          "Boron": "Boron (ppm)", "Zinc": "Zinc (ppm)", "Calcium": "Calcium (%)",
          "Manganese": "Manganese (ppm)", "Magnesium": "Magnesium (%)", "Iron": "Iron (ppm)",
          "Sulfur": "Sulfur (%)", "Copper": "Copper (ppm)"}
TITLE_X = {"Nitrogen": 0.47, "Phosphorus": 0.51, "Potassium": 0.54, "Boron": 0.47, "Zinc": 0.47,
           "Calcium": 0.51, "Manganese": 0.48, "Magnesium": 0.47, "Iron": 0.5, "Sulfur": 0.45, "Copper": 0.46}
TITLE_X_OVR = {2009: {"Potassium": 0.64, "Boron": 0.66, "Magnesium": 0.45},
               2010: {"Potassium": 0.62, "Boron": 0.66, "Magnesium": 0.45}}
# y axis: (min, max, dtick, format)
YAX = {"Nitrogen": (1.3, 4.0, 0.5, ".1f"), "Phosphorus": (0, 0.35, 0.1, ".1f"), "Potassium": (0.5, 4.0, 0.5, ".1f"),
       "Boron": (20, 80, 10, "d"), "Zinc": (0, 32, 5, "d"), "Calcium": (1, 4.5, 1, "d"),
       "Manganese": (0, 124, 25, "d"), "Magnesium": (0, 1.1, 0.2, ".1f"), "Iron": (0, 238, 50, "d"),
       "Sulfur": (0, 0.59, 0.1, ".1f"), "Copper": (2, 7.5, 1, "d")}
YAX_OVR = {2008: {"Calcium": (1, 4.9, 1, "d"), "Iron": (0, 200, 50, "d"), "Zinc": (0, 31.8, 5, "d")},
           2010: {"Iron": (0, 241, 50, "d")}}

BLOCKS = {
    2008: dict(cols=[(80, 282), (332, 533), (580, 783)], rows=[(172, 361), (373, 563), (577, 766), (778, 967)],
               title_x=462, ylab=(37, 565), key_y=(800, 980), key_shift=0, treat=["NF", "F1", "F2"], shape="spline"),
    2009: dict(cols=[(915, 1116), (1166, 1368), (1416, 1618)], rows=[(157, 349), (360, 554), (567, 761), (773, 966)],
               title_x=1296, ylab=(872, 560), key_y=(796, 976), key_shift=0, treat=["NF", "F1", "F2"], shape="spline"),
    2010: dict(cols=[(1768, 1970), (2020, 2220), (2269, 2470)], rows=[(163, 354), (367, 557), (572, 763), (775, 966)],
               title_x=2192, ylab=(1725, 564), key_y=(798, 978), key_shift=-6, treat=["NF", "F2"], shape="linear"),
}
OFFSET = {"NF": -0.2, "F1": 0.0, "F2": 0.2}
LEGEND_ROW = {"NF": 13.7, "F1": 11.7, "F2": 9.7}
LEGEND_SPAN = (-5, 27)
LINE_COLOR = {"NF": "#40e840", "F1": "#1a1ad0", "F2": "#dc2626"}
BOX_FILL = {"NF": "#38cc38", "F1": "#1010dc", "F2": "#dc2020"}
BOX_EDGE = {"NF": "#1d7d1d", "F1": "#06067a", "F2": "#7f1010"}
WHISKER = "#8c8c8c"
ORANGE = "#f0a030"
FRAME = "#7f7f7f"
FONT = "Liberation Sans, Arial, sans-serif"
XRANGE = (0.48, 4.5)
UNIT_PER_PX = (XRANGE[1] - XRANGE[0]) / 201.0

fig = go.Figure()
layout = dict(width=W, height=H, margin=dict(l=0, r=0, t=0, b=0), autosize=False,
              paper_bgcolor="white", plot_bgcolor="white", showlegend=False,
              font=dict(family=FONT, color="#222"), boxmode="overlay")
annotations = []


def px_x(p):
    return p / W


def px_y(p):
    return 1 - p / H


def noinfo(**kw):
    kw.update(showlegend=False, hoverinfo="skip")
    return kw


k = 0
for year, blk in BLOCKS.items():
    treat = blk["treat"]
    for r, row in enumerate(GRID):
        for c, nut in enumerate(row):
            if nut is None:
                continue
            k += 1
            sfx = "" if k == 1 else str(k)
            x0, x1 = blk["cols"][c]
            y0, y1 = blk["rows"][r]
            xr = list(XRANGE)
            if x1 > W:
                xr[1] = XRANGE[0] + (W - x0) * UNIT_PER_PX
                x1 = W
            bottom = (r == 3) or (c == 2 and r == 2)
            tickfont = dict(size=14, color="#333", family=FONT)
            layout["xaxis" + sfx] = dict(
                domain=[px_x(x0), px_x(x1)], anchor="y" + sfx, range=xr,
                tickvals=MONTH_POS, ticktext=MONTHS, showticklabels=bottom,
                ticks="outside", ticklen=5, tickcolor="#555", tickwidth=1,
                showline=True, mirror=True, linecolor=FRAME, linewidth=2,
                showgrid=False, zeroline=False, tickfont=tickfont)
            ymin, ymax, dt, fmt = YAX_OVR.get(year, {}).get(nut, YAX[nut])
            layout["yaxis" + sfx] = dict(
                domain=[px_y(y1), px_y(y0)], anchor="x" + sfx, range=[ymin, ymax],
                tick0=0, dtick=dt, tickformat=fmt,
                ticks="outside", ticklen=5, tickcolor="#555", tickwidth=1,
                showline=True, mirror=True, linecolor=FRAME, linewidth=2,
                showgrid=False, zeroline=False, tickfont=tickfont)
            xa, ya = "x" + sfx, "y" + sfx
            means, boxes, dots = DATA[year][nut]
            for t in treat:
                st = boxes[t]
                xs = [m + OFFSET[t] for m in MONTH_POS]
                # grey whiskers (10%-90%)
                fig.add_trace(go.Box(**noinfo(
                    x=xs, lowerfence=[b[0] for b in st], q1=[b[1] for b in st], median=[b[2] for b in st],
                    q3=[b[3] for b in st], upperfence=[b[4] for b in st],
                    width=0.16, whiskerwidth=0.9, fillcolor="rgba(0,0,0,0)",
                    line=dict(color=WHISKER, width=1), boxpoints=False, xaxis=xa, yaxis=ya)))
                # coloured box (25%-75%)
                fig.add_trace(go.Box(**noinfo(
                    x=xs, lowerfence=[b[1] for b in st], q1=[b[1] for b in st], median=[b[2] for b in st],
                    q3=[b[3] for b in st], upperfence=[b[3] for b in st],
                    width=0.16, whiskerwidth=0, fillcolor=BOX_FILL[t],
                    line=dict(color=BOX_EDGE[t], width=1), boxpoints=False, xaxis=xa, yaxis=ya)))
                # outliers
                dx = [x for x in xs for _ in range(2)]
                dy = [v for d in dots[t] for v in d]
                fig.add_trace(go.Scatter(**noinfo(
                    x=dx, y=dy, mode="markers", marker=dict(color="black", size=5),
                    xaxis=xa, yaxis=ya)))
            # critical value
            fig.add_trace(go.Scatter(**noinfo(
                x=[MONTH_POS[-1] + OFFSET["NF"]], y=[CRITICAL[nut]], mode="markers",
                marker=dict(symbol="line-ew", size=13, line=dict(color=ORANGE, width=3)),
                xaxis=xa, yaxis=ya)))
            # treatment lines
            for t in treat:
                fig.add_trace(go.Scatter(**noinfo(
                    x=MONTH_POS, y=means[t], mode="lines", name=t,
                    line=dict(color=LINE_COLOR[t], width=3, shape=blk["shape"], smoothing=0.5),
                    xaxis=xa, yaxis=ya)))
            # panel title
            tx = TITLE_X_OVR.get(year, {}).get(nut, TITLE_X[nut])
            ty_off = 15 if (nut == "Magnesium" and year != 2008) else 20
            annotations.append(dict(
                x=px_x(blk["cols"][c][0] + tx * 201), y=px_y(y0 + ty_off), xref="paper", yref="paper",
                text="<b>" + TITLES[nut] + "</b>", showarrow=False, xanchor="center", yanchor="middle",
                font=dict(size=18, color="black", family=FONT)))
            if year == 2008 and nut == "Iron":
                annotations.append(dict(x=2.7, y=96, xref=xa, yref=ya, text="Contaminated", showarrow=False,
                                        font=dict(size=21, color="#2222e8", family=FONT)))

    # ---- key axis (legend lines + schematic box) ----
    k += 1
    sfx = str(k)
    c3 = blk["cols"][2][0]
    ky0, ky1 = blk["key_y"]
    layout["xaxis" + sfx] = dict(domain=[px_x(c3 - 20), px_x(min(c3 + 190, W))], anchor="y" + sfx,
                                 range=[-20, 190], visible=False, fixedrange=True)
    layout["yaxis" + sfx] = dict(domain=[px_y(ky1), px_y(ky0)], anchor="x" + sfx, range=[0, 18],
                                 visible=False, fixedrange=True)
    xa, ya = "x" + sfx, "y" + sfx
    for t in treat:
        fig.add_trace(go.Scatter(**noinfo(
            x=list(LEGEND_SPAN), y=[LEGEND_ROW[t]] * 2, mode="lines", name=t,
            line=dict(color=LINE_COLOR[t], width=3), xaxis=xa, yaxis=ya)))
        annotations.append(dict(x=LEGEND_SPAN[1] + 6, y=LEGEND_ROW[t], xref=xa, yref=ya, text=t,
                                showarrow=False, xanchor="left", yanchor="middle",
                                font=dict(size=15, color="#222", family=FONT)))
    bx = 97
    fig.add_trace(go.Box(**noinfo(
        x=[bx], lowerfence=[KEY_BOX[0]], q1=[KEY_BOX[1]], median=[KEY_BOX[2]],
        q3=[KEY_BOX[3]], upperfence=[KEY_BOX[4]], width=13, whiskerwidth=0,
        fillcolor="#c4c4c4", line=dict(color="#8a8a8a", width=1.5), boxpoints=False, xaxis=xa, yaxis=ya)))
    fig.add_trace(go.Scatter(**noinfo(
        x=[bx] * len(KEY_OUTLIERS), y=KEY_OUTLIERS, mode="markers",
        marker=dict(color="black", size=5), xaxis=xa, yaxis=ya)))
    fig.add_trace(go.Scatter(**noinfo(
        x=[bx], y=[KEY_CRITICAL], mode="markers",
        marker=dict(symbol="line-ew", size=13, line=dict(color=ORANGE, width=3)), xaxis=xa, yaxis=ya)))
    ks = blk["key_shift"]
    key_labels = [("Outlier", KEY_OUTLIERS[0], 28, 0),
                  ("90% quantile", KEY_BOX[4] + 0.2, 27, -4),
                  ("75% quantile", KEY_BOX[3], 26, 8),
                  ("Median", KEY_BOX[2], 28, -2),
                  ("25% quantile", KEY_BOX[1], 26, 4),
                  ("10% quantile", KEY_BOX[0] - 0.3, 21, 16)]
    for txt, yv, axp, ayp in key_labels:
        annotations.append(dict(x=bx + 9, y=yv, xref=xa, yref=ya, text=txt, showarrow=True,
                                ax=axp + ks, ay=ayp, xanchor="left", yanchor="middle",
                                arrowhead=2, arrowsize=1, arrowwidth=1.6, arrowcolor="black",
                                standoff=0, font=dict(size=10, color="#333", family=FONT)))
    annotations.append(dict(x=bx - 9, y=KEY_CRITICAL, xref=xa, yref=ya, text="Critical Value",
                            showarrow=True, ax=-25, ay=0, xanchor="right", yanchor="middle",
                            arrowhead=2, arrowsize=1, arrowwidth=2, arrowcolor=ORANGE, standoff=0,
                            font=dict(size=10, color="#333", family=FONT)))
    annotations.append(dict(x=bx - 65, y=KEY_CRITICAL - 1.6, xref=xa, yref=ya, text="for NF (July)",
                            showarrow=False, xanchor="center", yanchor="middle",
                            font=dict(size=10, color="#333", family=FONT)))

    # ---- block texts ----
    annotations.append(dict(x=px_x(blk["title_x"]), y=px_y(80), xref="paper", yref="paper", text=str(year),
                            showarrow=False, xanchor="center", yanchor="middle",
                            font=dict(size=96, color="black", family="Open Sans", weight="bold", style="italic")))
    annotations.append(dict(x=px_x(blk["ylab"][0]), y=px_y(blk["ylab"][1]), xref="paper", yref="paper",
                            text="<b>Leaf nutrient concentration</b>", textangle=-90, showarrow=False,
                            xanchor="center", yanchor="middle",
                            font=dict(size=23, color="black", family="DejaVu Sans")))
    c2 = blk["cols"][1]
    annotations.append(dict(x=px_x((c2[0] + c2[1]) / 2), y=px_y(1013), xref="paper", yref="paper",
                            text="<b>Month</b>", showarrow=False, xanchor="center", yanchor="middle",
                            font=dict(size=22, color="black", family=FONT)))

layout["annotations"] = annotations
fig.update_layout(**layout)
fig.write_html("out.html")
